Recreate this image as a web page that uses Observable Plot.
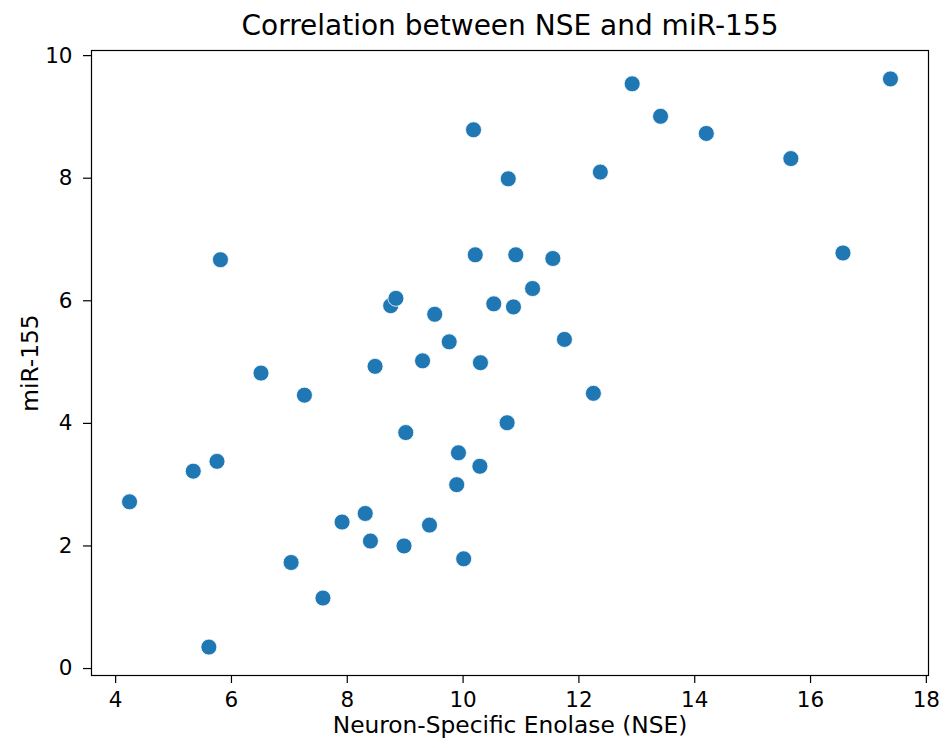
<!DOCTYPE html>
<html>
<head>
<meta charset="utf-8">
<script src="https://cdn.jsdelivr.net/npm/d3@7"></script>
<script src="https://cdn.jsdelivr.net/npm/@observablehq/plot@0.6"></script>
<style>
  html, body { margin: 0; padding: 0; background: #fff; }
  #chart { width: 945px; height: 748px; }
</style>
</head>
<body>
<div id="chart"></div>
<script>
// Chart data
const title = "Correlation between NSE and miR-155";
const xLabel = "Neuron-Specific Enolase (NSE)";
const yLabel = "miR-155";
const xTicks = [4, 6, 8, 10, 12, 14, 16, 18];
const yTicks = [0, 2, 4, 6, 8, 10];
const nse = [
  4.24, 5.34, 5.61, 5.75, 5.81, 6.51, 7.03, 7.26, 7.58, 7.91, 8.31,
  8.40, 8.48, 8.75, 8.84, 8.98, 9.01, 9.30, 9.42, 9.51, 9.76, 9.89,
  9.92, 10.01, 10.18, 10.21, 10.29, 10.30, 10.53, 10.76, 10.78, 10.87,
  10.91, 11.20, 11.55, 11.75, 12.25, 12.37, 12.92, 13.41, 14.20, 15.66,
  16.56, 17.38
];
const mir155 = [
  2.72, 3.22, 0.35, 3.38, 6.67, 4.82, 1.73, 4.46, 1.15, 2.39, 2.53,
  2.08, 4.93, 5.92, 6.04, 2.00, 3.85, 5.02, 2.34, 5.78, 5.33, 3.00,
  3.52, 1.79, 8.79, 6.75, 3.30, 4.99, 5.95, 4.01, 7.99, 5.90,
  6.75, 6.20, 6.69, 5.37, 4.49, 8.10, 9.54, 9.01, 8.73, 8.32,
  6.78, 9.62
];

const data = nse.map((x, i) => ({x, y: mir155[i]}));

// matplotlib-style 5% margins around the data extent
const [x0, x1] = d3.extent(nse);
const [y0, y1] = d3.extent(mir155);
const px = (x1 - x0) * 0.05, py = (y1 - y0) * 0.05;

const font = "'DejaVu Sans', sans-serif";

const chart = Plot.plot({
  width: 945,
  height: 748,
  marginLeft: 91,
  marginRight: 17,
  marginTop: 50,
  marginBottom: 73,
  style: {fontFamily: font, fontSize: "21px", color: "#000", background: "#fff"},
  x: {domain: [x0 - px, x1 + px]},
  y: {domain: [y0 - py, y1 + py]},
  marks: [
    Plot.axisX({ticks: xTicks, tickSize: 8, tickPadding: 8, tickFormat: d3.format("d"), label: null, fontSize: 21.5, stroke: "#000", strokeWidth: 1.2}),
    Plot.axisY({ticks: yTicks, tickSize: 8, tickPadding: 11, tickFormat: d3.format("d"), label: null, fontSize: 21.5, stroke: "#000", strokeWidth: 1.2}),
    Plot.dot(data, {x: "x", y: "y", r: 8, fill: "#1f77b4", stroke: "#ffffff", strokeWidth: 0.8}),
    Plot.frame({stroke: "#000", strokeWidth: 1.2}),
    Plot.text([xLabel], {frameAnchor: "bottom", lineAnchor: "middle", textAnchor: "middle", dy: 50, fontSize: 23.3, fill: "#000"}),
    Plot.text([yLabel], {frameAnchor: "left", lineAnchor: "middle", textAnchor: "middle", dx: -61, rotate: -90, fontSize: 23.3, fill: "#000"}),
    Plot.text([title], {frameAnchor: "top", lineAnchor: "middle", textAnchor: "middle", dy: -24, fontSize: 28, fill: "#000"})
  ]
});

document.getElementById("chart").appendChild(chart);
</script>
</body>
</html>
